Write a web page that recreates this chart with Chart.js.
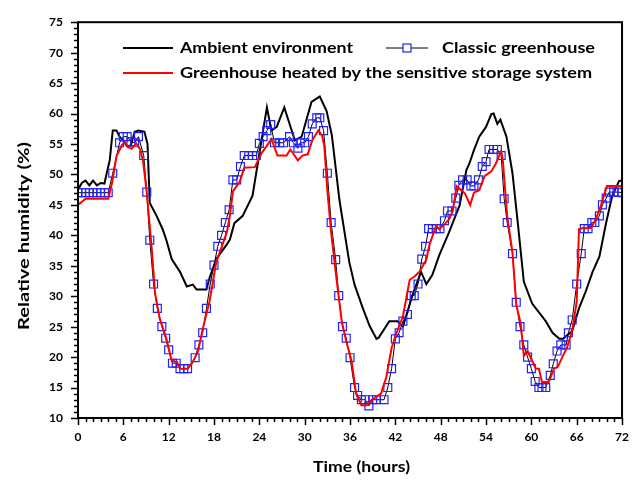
<!DOCTYPE html>
<html>
<head>
<meta charset="utf-8">
<script src="https://cdn.jsdelivr.net/npm/chart.js@4.4.1/dist/chart.umd.min.js"></script>
<style>
  html, body { margin: 0; padding: 0; background: #fff; }
</style>
</head>
<body>
<canvas id="humidityChart" width="641" height="481"></canvas>
<script>
// Ambient environment (black line)
const ambientHours = [0,0.5,1,1.5,2,2.5,3,3.5,3.8,4.2,4.6,5.1,5.5,6,6.5,7,7.5,8,8.8,9.2,9.5,10.4,11.2,11.7,12.4,13.5,14.4,15.2,15.7,17,17.4,18.3,19.7,20.1,20.7,21.8,23.1,24,25,25.6,26.3,27.3,28.7,29.6,30.9,32,32.9,33.6,34.6,35.9,36.6,37.7,38.6,39.5,39.8,41.2,42.3,43,44.3,45.4,46.1,46.9,47.8,49.1,50.5,51.4,51.8,52.4,53.1,54,54.7,55,55.5,55.9,56.7,57.5,58.2,59,60.1,61.9,62.8,63.7,64.2,65.4,66.3,67.2,68.1,69,69.9,70.7,71.6,72];
const ambientValues = [47.5,48.6,49,48.2,49,48.2,48.6,48.5,50.2,52.3,57.2,57.2,56.2,55.5,54.6,54.8,57,57.2,57,55,45.3,43.2,41,39.2,36.1,34,31.6,31.9,31.1,31.1,33,36.1,38.5,39.3,42,43.2,46.5,53.4,61,57.2,57.8,61,55.6,56.2,61.9,62.8,60.4,56.4,45.8,35.6,31.9,28,25.1,23,23.2,25.9,25.9,25,30.3,34,32,33.5,36.7,40.5,44.9,50.7,51.8,54,56.2,57.8,59.9,60,58.3,59,56.2,50.2,42.1,32.4,28.8,25.9,24,23,23,24.3,28,30.8,34,36.5,42.1,46.5,48.9,49];

// Classic greenhouse (blue squares)
const classicHours = [0,0.5,1,1.5,2,2.5,3,3.5,4,4.6,5.5,6,6.5,7,7.5,8,8.7,9.1,9.5,10,10.5,11.1,11.6,12,12.5,13,13.5,14,14.5,15.5,16,16.5,17,17.5,18,18.5,19,19.5,20,20.5,21,21.5,22,22.6,23.1,23.6,24,24.5,25,25.5,26,26.7,27.2,28,28.5,29.1,29.4,30,30.5,31,31.6,32,32.5,33,33.5,34.1,34.5,35,35.5,36,36.6,37,37.5,38,38.5,39,39.5,40.5,41,41.5,42,42.5,43,43.6,44.1,44.5,45,45.5,46,46.4,46.9,47.4,47.9,48.5,48.9,49.5,50,50.4,50.9,51.5,52,52.4,53,53.5,54,54.4,55,55.5,56,56.4,56.8,57.5,58,58.5,59,59.5,60,60.5,61,61.4,61.9,62.5,62.9,63.4,63.9,64.6,64.9,65.4,66,66.6,67,67.5,68,68.4,69,69.4,69.9,70.3,70.9,71.5,72];
const classicValues = [47,47,47,47,47,47,47,47,47,50.2,55.2,56.2,56.2,55.4,55.2,56.2,53.1,47.1,39.2,32,28,25,23.1,21.2,19,19,18.1,18.1,18.1,19.9,22,24,28,32,35.1,38.2,40,42.1,44.2,49.1,49.1,51.3,53.1,53.1,53.1,53.1,55.1,56.2,57.2,58.2,55.2,55.2,55.2,56.2,55.2,54.3,55.2,55.2,56.2,58.3,59.3,59.3,57.2,50.2,42.1,36,30.1,25,23.1,19.9,15,13.7,13,13,12,13,13,13,15,18.1,23,24,25.9,27,30.1,30.1,32,36.1,38.2,41.1,41.1,41.1,41.1,42.4,44,44,46.1,48.2,49.1,49.1,48.1,48.1,49.1,51.3,52.1,54.1,54.1,54.1,53.1,46,42.1,37,29,25,22,20,18.1,16,15,15,15,17,18.9,21,22,22,24,26.1,32,37,41.1,41.1,42.1,42.1,43.2,45,46.1,47.1,47.1,47.1,47];

// Greenhouse heated by the sensitive storage system (red line)
const heatedHours = [0,1,4,4.5,5.1,5.8,6.2,6.6,7.1,7.7,8.2,8.6,9.1,9.8,10.2,10.8,11.7,12.4,13.1,13.5,14.5,15.2,15.9,16.5,17.4,18.3,19.7,20.1,20.5,21.4,22,23.4,24.3,25.6,26.4,27.6,28.1,29.1,29.7,30.4,31,31.8,32.3,32.6,33,33.5,34.1,34.9,35.5,36.2,36.8,37.5,38.2,38.8,39.5,40.1,40.8,41.5,42.1,43,43.9,44.5,45.2,46.1,46.5,47.4,47.8,48.5,49.1,49.6,50.1,50.7,51.2,51.9,52.4,53.1,53.8,54.7,55.3,56,56.2,56.8,57.5,58,58.6,59,59.5,60.1,60.6,61,61.4,62.3,63,63.5,64.1,64.7,65.4,66,66.3,66.8,67.9,68.5,69.2,70,72];
const heatedValues = [45,46,46,48.6,53,54.8,55.3,54.5,54.2,55.1,54.2,52.3,47,37.2,30.5,26.4,23,19.4,19.2,18.1,18.1,19.2,21,24.6,29.1,35.6,40.5,43.2,47.2,48.8,51.1,51.2,53.5,55.8,53.1,53.1,54.1,52.3,53.1,53.3,55.6,57.2,56.4,54.6,47.4,40.5,34,25.9,22.6,19.4,14,12.1,12.1,12.9,13.5,14,16.7,21.5,23.8,26.7,32.7,33.2,34,36,38.4,41.6,41,41.8,42.6,44,48.1,47.4,46.9,45,47,47.4,49.7,50.5,51.8,53.8,52.6,43.2,37.2,28.6,25.4,20.2,21,19.4,18.1,18.1,15.9,15.9,18.1,18.4,20,21.5,24.3,29.1,41,41.2,41.2,42.6,44.9,48.1,48.1];

const xTicksMajor = [0, 6, 12, 18, 24, 30, 36, 42, 48, 54, 60, 66, 72];
const yTicksMajor = [10, 15, 20, 25, 30, 35, 40, 45, 50, 55, 60, 65, 70, 75];

const seriesNames = [
  "Ambient environment",
  "Classic greenhouse",
  "Greenhouse heated by the sensitive storage system"
];
const xTitle = "Time (hours)";
const yTitle = "Relative humidity (%)";

function toPoints(hours, values) {
  return hours.map((h, i) => ({ x: h, y: values[i] }));
}

const labelFont = "Lato";

// the original font is a wide geometric face, so stretch Lato sideways to the same width
function wideText(ctx, text, x, y, width) {
  const w = ctx.measureText(text).width;
  ctx.save();
  ctx.translate(x, y);
  ctx.scale(width / w, 1);
  ctx.fillText(text, 0, 0);
  ctx.restore();
}

// frame, minor/major tick marks, axis titles and the legend inside the plot
const frameAndLegend = {
  id: "frameAndLegend",
  afterDraw(chart) {
    const { ctx, chartArea: a, scales: { x, y } } = chart;
    ctx.save();
    ctx.strokeStyle = "#000";
    ctx.lineWidth = 1.5;
    ctx.beginPath();
    for (let h = 0; h <= 72; h++) {
      const px = Math.round(x.getPixelForValue(h)) + 0.5;
      const len = h % 6 === 0 ? 7 : 4;
      ctx.moveTo(px, a.bottom);
      ctx.lineTo(px, a.bottom + len);
    }
    for (let v = 10; v <= 75; v++) {
      const py = Math.round(y.getPixelForValue(v)) + 0.5;
      const len = v % 5 === 0 ? 7 : 4;
      ctx.moveTo(a.left, py);
      ctx.lineTo(a.left - len, py);
    }
    ctx.stroke();
    ctx.lineWidth = 2;
    ctx.strokeRect(a.left, a.top, a.right - a.left, a.bottom - a.top);

    ctx.fillStyle = "#000";
    ctx.font = "bold 16px " + labelFont;
    ctx.textBaseline = "middle";

    // axis titles
    wideText(ctx, xTitle, 313, 467, 97);
    ctx.save();
    ctx.translate(24, 330);
    ctx.rotate(-Math.PI / 2);
    wideText(ctx, yTitle, 0, 0, 188);
    ctx.restore();

    // legend
    const row1 = 48, row2 = 73;
    ctx.lineWidth = 2;
    ctx.strokeStyle = "#000";
    ctx.beginPath(); ctx.moveTo(123, row1); ctx.lineTo(173, row1); ctx.stroke();
    wideText(ctx, seriesNames[0], 180, row1, 173);

    ctx.lineWidth = 1;
    ctx.beginPath(); ctx.moveTo(386, row1); ctx.lineTo(428, row1); ctx.stroke();
    ctx.fillStyle = "#fff";
    ctx.fillRect(403, row1 - 4, 8, 8);
    ctx.strokeStyle = "#2222ff";
    ctx.lineWidth = 1.2;
    ctx.strokeRect(403, row1 - 4, 8, 8);
    ctx.fillStyle = "#000";
    wideText(ctx, seriesNames[1], 442, row1, 153);

    ctx.strokeStyle = "#ff0000";
    ctx.lineWidth = 2;
    ctx.beginPath(); ctx.moveTo(123, row2); ctx.lineTo(173, row2); ctx.stroke();
    wideText(ctx, seriesNames[2], 180, row2, 412);
    ctx.restore();
  }
};

const ctx = document.getElementById("humidityChart").getContext("2d");
new Chart(ctx, {
  type: "scatter",
  data: {
    datasets: [
      {
        label: seriesNames[2],
        data: toPoints(heatedHours, heatedValues),
        showLine: true,
        borderColor: "#ff0000",
        borderWidth: 2,
        pointRadius: 0,
        tension: 0,
        order: 0
      },
      {
        label: seriesNames[1],
        data: toPoints(classicHours, classicValues),
        showLine: true,
        borderColor: "#000",
        borderWidth: 1,
        pointStyle: "rect",
        pointRadius: 5.6,
        pointBorderColor: "#2222ff",
        pointBorderWidth: 1.2,
        pointBackgroundColor: "rgba(255,255,255,0)",
        tension: 0,
        order: 1
      },
      {
        label: seriesNames[0],
        data: toPoints(ambientHours, ambientValues),
        showLine: true,
        borderColor: "#000",
        borderWidth: 2,
        pointRadius: 0,
        tension: 0,
        order: 2
      }
    ]
  },
  options: {
    responsive: false,
    animation: false,
    devicePixelRatio: 1,
    layout: { padding: { top: 17, right: 18, left: 0, bottom: 0 } },
    plugins: { legend: { display: false }, tooltip: { enabled: false } },
    scales: {
      x: {
        type: "linear",
        min: 0,
        max: 72,
        afterFit: s => { s.height = 63; },
        afterBuildTicks: s => { s.ticks = xTicksMajor.map(v => ({ value: v })); },
        grid: { display: false, drawTicks: false },
        border: { display: false },
        ticks: { padding: 12, color: "#000", font: { family: labelFont, weight: "bold", size: 12 } }
      },
      y: {
        min: 10,
        max: 75,
        afterFit: s => { s.width = 78; },
        afterBuildTicks: s => { s.ticks = yTicksMajor.map(v => ({ value: v })); },
        grid: { display: false, drawTicks: false },
        border: { display: false },
        ticks: { padding: 15, color: "#000", font: { family: labelFont, weight: "bold", size: 12 } }
      }
    }
  },
  plugins: [frameAndLegend]
});
</script>
</body>
</html>
